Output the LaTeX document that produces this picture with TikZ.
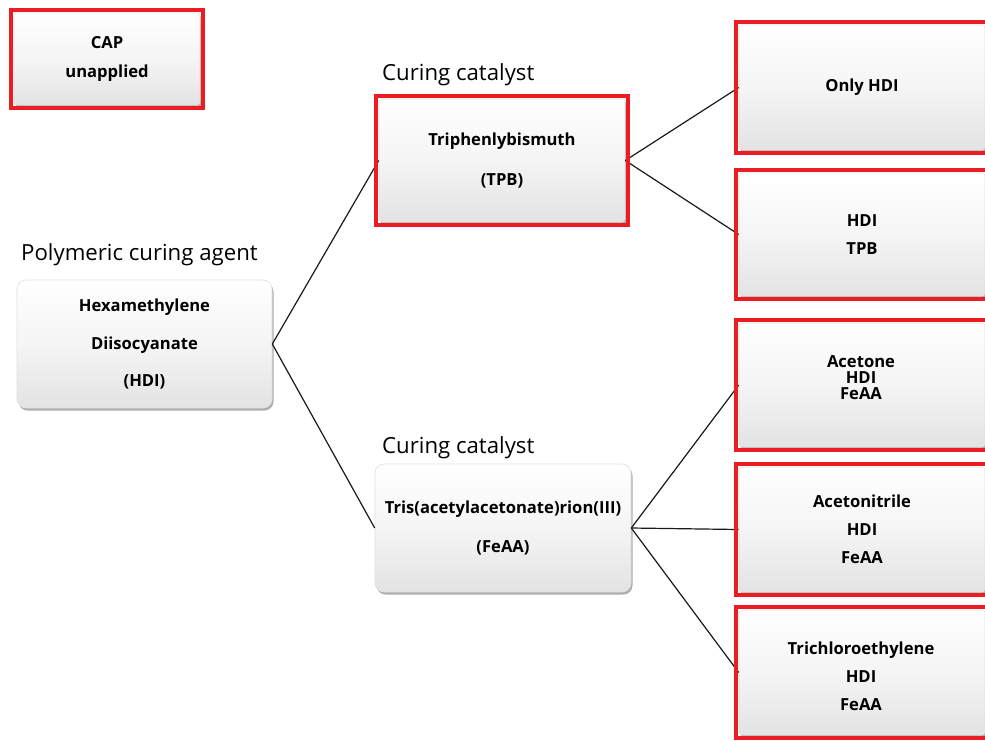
\documentclass[tikz,border=0pt]{standalone}
\usepackage{fontspec}
\setmainfont{Open Sans}
\usetikzlibrary{shadows}
\definecolor{framered}{RGB}{236,28,36}
\tikzset{
  box/.style={rounded corners=#1, draw=black!12, line width=0.6pt,
    top color=white, bottom color=black!11, middle color=white!96!black,
    drop shadow={shadow xshift=1.5pt, shadow yshift=-2.5pt, opacity=.45, fill=black!70},
    align=center, inner sep=0pt},
  box/.default=3pt,
  bt/.style={font=\bfseries\fontsize{16.6}{#1}\selectfont},
  captext/.style={font=\fontsize{22.2}{24}\selectfont, anchor=west, inner sep=0pt},
  redf/.style={draw=framered, line width=4pt},
  conn/.style={draw=black!90, line width=1.2pt}
}
\begin{document}
\begin{tikzpicture}[x=1pt,y=-1pt]
\useasboundingbox (0,0) rectangle (985,740);
\clip (0,0) rectangle (985,740);
\fill[white] (0,0) rectangle (985,740);
% boxes
\node[box, bt=29, minimum width=186, minimum height=92] (cap) at (107,59) {CAP\\unapplied};
\node[box, bt=40, minimum width=246, minimum height=123] (tpb) at (502,160.5) {Triphenlybismuth\\(TPB)};
\node[box=9pt, bt=37.5, minimum width=255, minimum height=128] (hdi) at (144.5,344) {Hexamethylene\\Diisocyanate\\(HDI)};
\node[box=9pt, bt=39, minimum width=256, minimum height=128] (feaa) at (503,528) {Tris(acetylacetonate)rion(III)\\(FeAA)};
\node[box, bt=28, minimum width=246, minimum height=125] (only) at (862,87.5) {Only HDI};
\node[box, bt=28, minimum width=246, minimum height=123] (hditpb) at (862,234.5) {HDI\\TPB};
\node[box, minimum width=246, minimum height=124] (acet) at (862,385) {};
\node[bt=16, align=center, inner sep=0pt] (acettxt) at (861,378) {Acetone\\HDI\\FeAA};
\node[box, bt=28, minimum width=246, minimum height=125] (acnit) at (862,529.5) {Acetonitrile\\HDI\\FeAA};
\node[box, minimum width=246, minimum height=125] (tce) at (862,672.5) {};
\node[bt=28, align=center, inner sep=0pt] (tcetxt) at (861,676) {Trichloroethylene\\HDI\\FeAA};
% labels
\node[captext] (lab1) at (382,75) {Curing catalyst};
\node[captext] (lab2) at (21,255) {Polymeric curing agent};
\node[captext] (lab3) at (382,448) {Curing catalyst};
% connectors
\draw[conn] (hdi.east) -- (tpb.west);
\draw[conn] (hdi.east) -- (feaa.west);
\draw[conn] (tpb.east) -- (only.west);
\draw[conn] (tpb.east) -- (hditpb.west);
\draw[conn] (feaa.east) -- (acet.west);
\draw[conn] (feaa.east) -- (acnit.west);
\draw[conn] (feaa.east) -- (tce.west);
% red frames
\foreach \n in {cap,tpb,only,hditpb,acet,acnit,tce}{
  \draw[redf] ([shift={(-3pt,3pt)}]\n.north west) rectangle ([shift={(3pt,-3pt)}]\n.south east);
}
\end{tikzpicture}
\end{document}
